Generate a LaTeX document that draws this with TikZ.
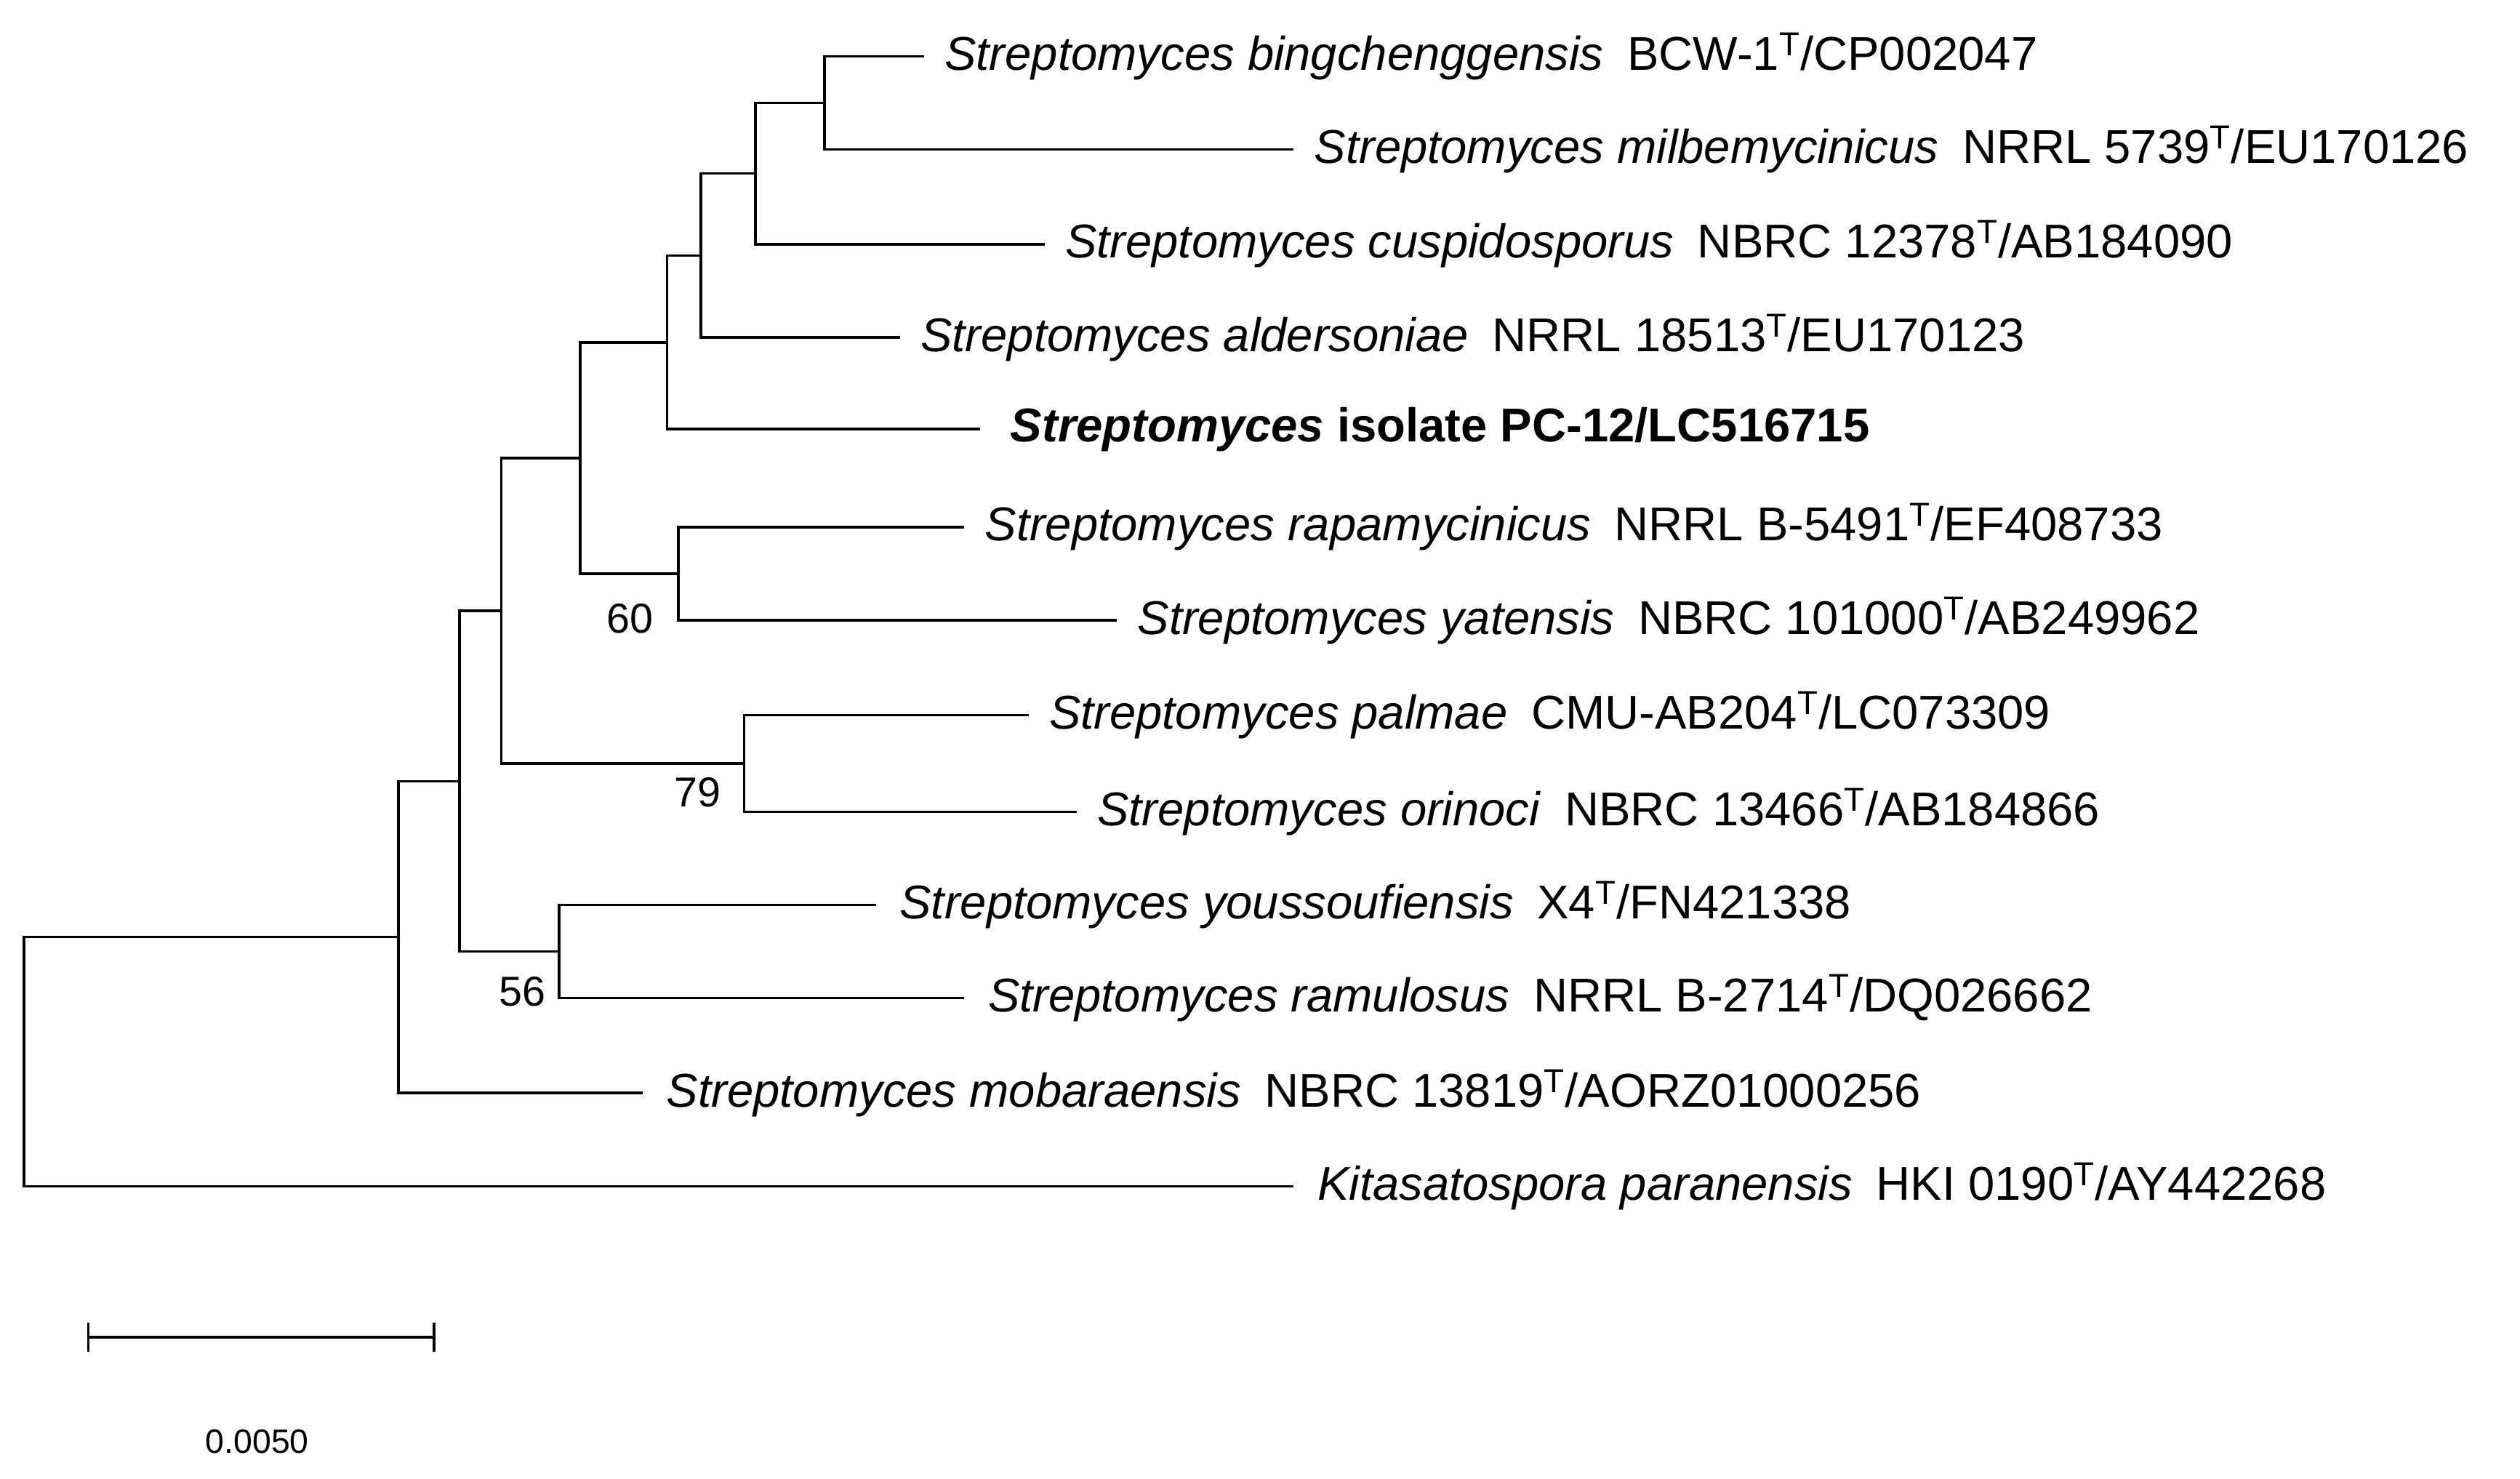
\documentclass[tikz,border=0pt]{standalone}
\usepackage{fontspec}
\setmainfont{Liberation Sans}
\begin{document}
\begin{tikzpicture}[x=1pt,y=-1pt,line width=1.6pt,
 lab/.style={anchor=west,inner sep=0pt,font=\fontsize{29.5}{32}\selectfont},
 bs/.style={font=\fontsize{26}{28}\selectfont,inner sep=0pt}]
\useasboundingbox (0,0) rectangle (1568,920);
\newcommand{\spx}[3]{\textit{#1}\hspace{0.5em}#2\textsuperscript{T}/#3}
% leaves
\coordinate (l1) at (575,35);  \coordinate (l2) at (805,93);
\coordinate (l3) at (650,152); \coordinate (l4) at (560,210);
\coordinate (l5) at (610,267); \coordinate (l6) at (600,328);
\coordinate (l7) at (695,386); \coordinate (l8) at (640,445);
\coordinate (l9) at (670,505); \coordinate (l10) at (545,563);
\coordinate (l11) at (600,621);\coordinate (l12) at (400,680);
\coordinate (l13) at (805,738);
% internal
\coordinate (a) at (513,64);  \coordinate (b) at (470,108);
\coordinate (c) at (436,159); \coordinate (d) at (415,213);
\coordinate (e) at (422,357); \coordinate (f) at (361,285);
\coordinate (g) at (463,475); \coordinate (h) at (312,380);
\coordinate (i) at (348,592); \coordinate (j) at (286,486);
\coordinate (k) at (248,583); \coordinate (r) at (15,660);
\draw (a)|-(l1) (a)|-(l2);
\draw (b)|-(a) (b)|-(l3);
\draw (c)|-(b) (c)|-(l4);
\draw (d)|-(c) (d)|-(l5);
\draw (e)|-(l6) (e)|-(l7);
\draw (f)|-(d) (f)|-(e);
\draw (g)|-(l8) (g)|-(l9);
\draw (h)|-(f) (h)|-(g);
\draw (i)|-(l10) (i)|-(l11);
\draw (j)|-(h) (j)|-(i);
\draw (k)|-(j) (k)|-(l12);
\draw (r)|-(k) (r)|-(l13);
% labels
\node[lab] (t1) at ([xshift=12pt]l1) {\spx{Streptomyces bingchenggensis}{BCW-1}{CP002047}};
\node[lab] (t2) at ([xshift=12pt]l2) {\spx{Streptomyces milbemycinicus}{NRRL 5739}{EU170126}};
\node[lab] (t3) at ([xshift=12pt]l3) {\spx{Streptomyces cuspidosporus}{NBRC 12378}{AB184090}};
\node[lab] (t4) at ([xshift=12pt]l4) {\spx{Streptomyces aldersoniae}{NRRL 18513}{EU170123}};
\node[lab] (t5) at ([xshift=18pt]l5) {\textbf{\textit{Streptomyces} isolate PC-12/LC516715}};
\node[lab] (t6) at ([xshift=12pt]l6) {\spx{Streptomyces rapamycinicus}{NRRL B-5491}{EF408733}};
\node[lab] (t7) at ([xshift=12pt]l7) {\spx{Streptomyces yatensis}{NBRC 101000}{AB249962}};
\node[lab] (t8) at ([xshift=12pt]l8) {\spx{Streptomyces palmae}{CMU-AB204}{LC073309}};
\node[lab] (t9) at ([xshift=12pt]l9) {\spx{Streptomyces orinoci}{NBRC 13466}{AB184866}};
\node[lab] (t10) at ([xshift=14pt]l10) {\spx{Streptomyces youssoufiensis}{X4}{FN421338}};
\node[lab] (t11) at ([xshift=14pt]l11) {\spx{Streptomyces ramulosus}{NRRL B-2714}{DQ026662}};
\node[lab] (t12) at ([xshift=14pt]l12) {\spx{Streptomyces mobaraensis}{NBRC 13819}{AORZ01000256}};
\node[lab] (t13) at ([xshift=14pt]l13) {\spx{Kitasatospora paranensis}{HKI 0190}{AY442268}};
% bootstrap
\node[bs] (b60) at (392,385) {60};
\node[bs] (b79) at (434,493) {79};
\node[bs] (b56) at (325,617) {56};
% scale bar
\coordinate (s1) at (55,832); \coordinate (s2) at (270,832);
\draw (s1)--(s2) ([yshift=-9pt]s1)--([yshift=9pt]s1) ([yshift=-9pt]s2)--([yshift=9pt]s2);
\node[font=\fontsize{21}{24}\selectfont,inner sep=0pt] (sl) at (160,897) {0.0050};
\end{tikzpicture}
\end{document}
